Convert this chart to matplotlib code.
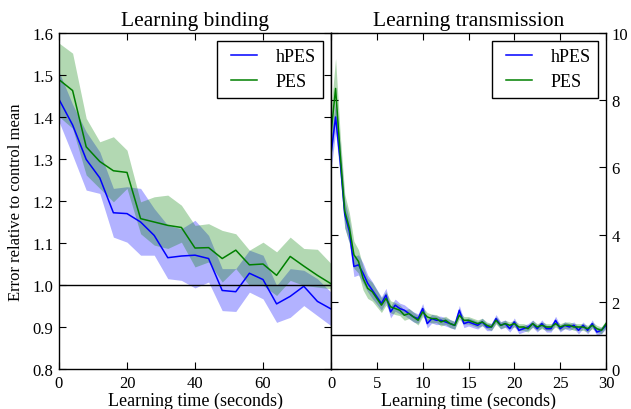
import matplotlib
matplotlib.use("Agg")
import matplotlib.pyplot as plt
import numpy as np

plt.rcParams['font.family'] = ['Liberation Serif', 'DejaVu Serif']
plt.rcParams['mathtext.fontset'] = 'stix'

# ---- Left panel: Learning binding ----
bind_t = [0, 4, 8, 12, 16, 20, 24, 28, 32, 36, 40, 44, 48, 52, 56, 60, 64, 68, 72, 76, 80]
bind_hpes = [1.442, 1.381, 1.299, 1.255, 1.172, 1.170, 1.150, 1.118, 1.065, 1.069, 1.071,
             1.063, 0.987, 0.984, 1.028, 1.013, 0.955, 0.973, 0.997, 0.961, 0.943]
bind_hpes_lo = [1.389, 1.309, 1.226, 1.218, 1.114, 1.102, 1.071, 1.071, 1.015, 1.011, 0.993,
                1.007, 0.939, 0.937, 0.983, 0.967, 0.911, 0.923, 0.951, 0.927, 0.903]
bind_hpes_hi = [1.508, 1.430, 1.365, 1.317, 1.230, 1.234, 1.230, 1.182, 1.142, 1.134, 1.154,
                1.118, 1.039, 1.039, 1.083, 1.071, 0.999, 1.039, 1.035, 1.015, 0.983]
bind_pes = [1.489, 1.463, 1.329, 1.294, 1.272, 1.268, 1.158, 1.150, 1.142, 1.137, 1.088,
            1.089, 1.063, 1.083, 1.048, 1.050, 1.023, 1.068, 1.045, 1.023, 1.003]
bind_pes_lo = [1.401, 1.373, 1.262, 1.230, 1.198, 1.230, 1.122, 1.095, 1.087, 1.102, 1.043,
               1.055, 1.007, 1.039, 0.999, 0.999, 0.975, 1.011, 0.999, 0.995, 0.991]
bind_pes_hi = [1.576, 1.552, 1.397, 1.341, 1.353, 1.321, 1.198, 1.210, 1.214, 1.190, 1.142,
               1.146, 1.130, 1.122, 1.083, 1.102, 1.079, 1.114, 1.087, 1.085, 1.051]

# ---- Right panel: Learning transmission ----
trans_t = [0.0, 0.5, 1.0, 1.5, 2.0, 2.5, 3.0, 3.5, 4.0, 4.5, 5.0, 5.5, 6.0, 6.5, 7.0, 7.5,
           8.0, 8.5, 9.0, 9.5, 10.0, 10.5, 11.0, 11.5, 12.0, 12.5, 13.0, 13.5, 14.0, 14.5,
           15.0, 15.5, 16.0, 16.5, 17.0, 17.5, 18.0, 18.5, 19.0, 19.5, 20.0, 20.5, 21.0,
           21.5, 22.0, 22.5, 23.0, 23.5, 24.0, 24.5, 25.0, 25.5, 26.0, 26.5, 27.0, 27.5,
           28.0, 28.5, 29.0, 29.5, 30.0]
trans_hpes = [6.4, 7.5, 6.2, 4.6, 4.1, 3.05, 3.1, 2.85, 2.55, 2.35, 2.15, 1.95, 2.2, 1.7,
              1.9, 1.8, 1.75, 1.65, 1.55, 1.5, 1.8, 1.35, 1.5, 1.45, 1.45, 1.4, 1.35, 1.3,
              1.75, 1.35, 1.4, 1.35, 1.3, 1.4, 1.25, 1.25, 1.5, 1.3, 1.35, 1.2, 1.4, 1.15,
              1.2, 1.25, 1.35, 1.2, 1.35, 1.2, 1.2, 1.45, 1.2, 1.3, 1.25, 1.3, 1.15, 1.3,
              1.15, 1.35, 1.1, 1.15, 1.3]
trans_hpes_err = [0.5, 0.45, 0.45, 0.4, 0.35, 0.3, 0.3, 0.3, 0.25, 0.25, 0.22, 0.2, 0.2,
                  0.18, 0.18, 0.16, 0.16, 0.15, 0.15, 0.14, 0.15, 0.13, 0.13, 0.13, 0.12,
                  0.12, 0.12, 0.12, 0.14, 0.12, 0.12, 0.12, 0.11, 0.11, 0.11, 0.11, 0.12,
                  0.11, 0.11, 0.1, 0.12, 0.1, 0.1, 0.1, 0.11, 0.1, 0.11, 0.1, 0.1, 0.12,
                  0.1, 0.1, 0.1, 0.1, 0.1, 0.1, 0.1, 0.11, 0.1, 0.1, 0.1]
trans_pes = [7.0, 8.35, 6.4, 4.7, 4.2, 3.4, 3.2, 2.7, 2.4, 2.3, 2.1, 1.9, 2.1, 1.85, 1.8,
             1.75, 1.6, 1.65, 1.55, 1.45, 1.7, 1.55, 1.5, 1.5, 1.4, 1.45, 1.35, 1.3, 1.6,
             1.45, 1.45, 1.4, 1.35, 1.4, 1.3, 1.25, 1.45, 1.3, 1.35, 1.3, 1.35, 1.25, 1.25,
             1.2, 1.35, 1.25, 1.3, 1.25, 1.25, 1.35, 1.25, 1.3, 1.3, 1.25, 1.25, 1.25, 1.2,
             1.3, 1.2, 1.15, 1.35]
trans_pes_err = [0.7, 0.9, 0.6, 0.5, 0.45, 0.4, 0.35, 0.35, 0.3, 0.28, 0.25, 0.22, 0.2,
                 0.18, 0.18, 0.16, 0.15, 0.15, 0.14, 0.14, 0.14, 0.13, 0.13, 0.12, 0.12,
                 0.12, 0.12, 0.11, 0.12, 0.11, 0.11, 0.11, 0.11, 0.11, 0.1, 0.1, 0.11,
                 0.1, 0.1, 0.1, 0.1, 0.1, 0.1, 0.1, 0.1, 0.1, 0.1, 0.1, 0.1, 0.1, 0.1,
                 0.1, 0.1, 0.1, 0.1, 0.1, 0.1, 0.1, 0.1, 0.1, 0.1]

series_labels = ['hPES', 'PES']
left_yticks = [0.8, 0.9, 1.0, 1.1, 1.2, 1.3, 1.4, 1.5, 1.6]
left_xticks = [0, 20, 40, 60]
right_xticks = [0, 5, 10, 15, 20, 25, 30]
right_yticks = [0, 2, 4, 6, 8, 10]

TICK_FS = 12
LAB_FS = 13
TITLE_FS = 15.5
LEG_FS = 13

fig = plt.figure(figsize=(6.31, 4.10), dpi=100)
axL = fig.add_axes([59/631, 1-370/410, 272/631, 336/410])
axR = fig.add_axes([331/631, 1-370/410, 275/631, 336/410])

# left
axL.fill_between(bind_t, bind_hpes_lo, bind_hpes_hi, color='b', alpha=0.3, lw=0)
axL.fill_between(bind_t, bind_pes_lo, bind_pes_hi, color='g', alpha=0.3, lw=0)
axL.plot(bind_t, bind_hpes, color='b', lw=1.1, label=series_labels[0])
axL.plot(bind_t, bind_pes, color='g', lw=1.1, label=series_labels[1])
axL.axhline(1.0, color='k', lw=1.0)
axL.set_xlim(0, 80)
axL.set_ylim(0.8, 1.6)
axL.set_xticks(left_xticks)
axL.set_yticks(left_yticks)
axL.set_yticklabels([f"{v:.1f}" for v in left_yticks])
axL.set_title('Learning binding', fontsize=TITLE_FS, pad=6)
axL.set_xlabel('Learning time (seconds)', fontsize=LAB_FS, labelpad=1)
axL.set_ylabel('Error relative to control mean', fontsize=12, labelpad=6)
axL.tick_params(direction='in', top=True, right=True, labelsize=TICK_FS, length=5, pad=4)

# right
tt = np.array(trans_t)
hp = np.array(trans_hpes); he = np.array(trans_hpes_err)
pp = np.array(trans_pes); pe = np.array(trans_pes_err)
axR.fill_between(tt, hp - he, hp + he, color='b', alpha=0.3, lw=0)
axR.fill_between(tt, pp - pe, pp + pe, color='g', alpha=0.3, lw=0)
axR.plot(tt, hp, color='b', lw=1.1, label=series_labels[0])
axR.plot(tt, pp, color='g', lw=1.1, label=series_labels[1])
axR.axhline(1.0, color='k', lw=1.0)
axR.set_xlim(0, 30)
axR.set_ylim(0, 10)
axR.set_xticks(right_xticks)
axR.set_yticks(right_yticks)
axR.yaxis.tick_right()
axR.set_title('Learning transmission', fontsize=TITLE_FS, pad=6)
axR.set_xlabel('Learning time (seconds)', fontsize=LAB_FS, labelpad=1)
axR.tick_params(direction='in', top=True, left=True, right=True, labelleft=False,
                labelright=True, labelsize=TICK_FS, length=5, pad=4)

for ax in (axL, axR):
    leg = ax.legend(loc='upper right', fontsize=LEG_FS, fancybox=False, framealpha=1,
                    edgecolor='k', handlelength=1.85, borderpad=0.4, labelspacing=0.45,
                    handletextpad=1.0, borderaxespad=0.45)
    leg.get_frame().set_linewidth(1.0)
    for ln in leg.get_lines():
        xd = np.asarray(ln.get_xdata(), dtype=float)
        if xd.size >= 2:
            x0, x1 = xd.min(), xd.max()
            ln.set_xdata(np.linspace(x0 + 0.21 * (x1 - x0), x1, xd.size))
    for s in ax.spines.values():
        s.set_linewidth(1.0)

fig.savefig('out.png', dpi=100)
